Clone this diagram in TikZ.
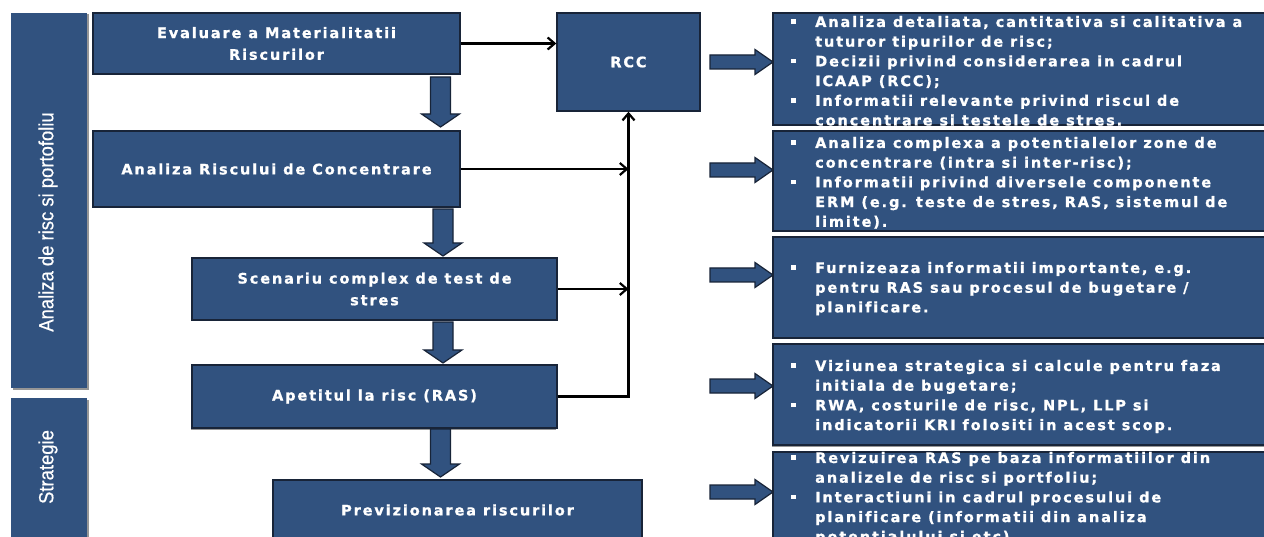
\documentclass[tikz,border=0pt]{standalone}
\usepackage{fontspec}
\setmainfont{DejaVu Sans}
\newfontfamily\boxfont{DejaVu Sans}[LetterSpace=13, FakeBold=1, Ligatures=NoCommon]
\newfontfamily\bandfont{Liberation Sans}[FakeStretch=0.9, FakeBold=0.5]
\usetikzlibrary{arrows.meta,shadows}

\definecolor{boxblue}{RGB}{49,82,127}
\definecolor{boxline}{RGB}{24,36,56}
\definecolor{shade}{RGB}{150,150,150}

\newcommand\bul{\makebox[24pt][l]{\rule[3pt]{5pt}{4.5pt}}}
\newcommand\ind{\hspace*{24pt}}

\begin{document}
\begin{tikzpicture}[
  x=1pt,
  y=-1pt,
  box/.style={draw=boxline, line width=1.4pt, fill=boxblue, text=white,
    font=\boxfont\bfseries\fontsize{14.5}{19.7}\selectfont,
    align=center, inner sep=0pt,
    drop shadow={shadow xshift=-1.5pt, shadow yshift=-1.5pt, fill=shade, opacity=1}},
  band/.style={fill=boxblue, inner sep=0pt,
    drop shadow={shadow xshift=1.5pt, shadow yshift=-1.5pt, fill=shade, opacity=1}},
  bandtext/.style={text=white, rotate=90, inner sep=0pt,
    font=\bandfont\fontsize{20.5}{22}\selectfont},
  info/.style={text=white, anchor=north west, align=left, inner sep=0pt,
    font=\boxfont\bfseries\fontsize{14.5}{19.7}\selectfont},
  blk/.style={fill=boxblue, draw=boxline, line width=1.2pt, line join=miter},
  conn/.style={draw=black, line width=2.2pt,
    -{Straight Barb[length=7pt,width=12pt]}}
]
  \useasboundingbox (0,0) rectangle (1264,537);
  \clip (0,0) rectangle (1264,537);

  % Benzi laterale
  \node[band, minimum width=76, minimum height=375] (an) at (49,200.5) {};
  \node[bandtext] (antext) at (48,222) {Analiza de risc si portofoliu};
  \node[band, minimum width=76, minimum height=150] (st) at (49,473) {};
  \node[bandtext] (sttext) at (48,467) {Strategie};

  % Blocuri proces
  \node[box, minimum width=367, minimum height=61] (eval) at (276.5,43.5)
    {Evaluare a Materialitatii\\[2pt]Riscurilor};
  \node[box, minimum width=367, minimum height=76] (conc) at (276.5,169)
    {Analiza Riscului de Concentrare};
  \node[box, minimum width=365, minimum height=62] (scen) at (374.5,289)
    {Scenariu complex de test de\\[2pt]stres};
  \node[box, minimum width=365, minimum height=63] (ras) at (374.5,396.5)
    {Apetitul la risc (RAS)};
  \node[box, minimum width=369, minimum height=60] (prev) at (457.5,510)
    {Previzionarea riscurilor};
  \node[box, minimum width=143, minimum height=98] (rcc) at (628.5,62) {RCC};

  % Sageti bloc in jos
  \foreach \x/\t/\b in {440.5/77/127, 443/209/256, 443/322/363, 440.5/429/477}
    \draw[blk] (\x-10,\t) -- (\x+10,\t) -- (\x+10,\b-13) -- (\x+19,\b-13)
      -- (\x,\b) -- (\x-19,\b-13) -- (\x-10,\b-13) -- cycle;

  % Legaturi spre RCC
  \draw[conn] (eval.east) -- (eval.east -| rcc.west);
  \draw[conn] (conc.east) -- (conc.east -| rcc.south);
  \draw[conn] (scen.east) -- (scen.east -| rcc.south);
  \draw[conn] (ras.east) -| (rcc.south);

  % Casete dreapta
  \node[box, minimum width=517, minimum height=112] (rb1) at (1031.5,69) {};
  \node[box, minimum width=517, minimum height=100] (rb2) at (1031.5,181) {};
  \node[box, minimum width=517, minimum height=101] (rb3) at (1031.5,287.5) {};
  \node[box, minimum width=517, minimum height=101] (rb4) at (1031.5,394.5) {};
  \node[box, minimum width=517, minimum height=108] (rb5) at (1031.5,506) {};

  % Sageti bloc spre dreapta
  \foreach \y in {62,170,275,386,492}
    \draw[blk] (710,\y-7) -- (755,\y-7) -- (755,\y-12.5) -- (773,\y)
      -- (755,\y+12.5) -- (755,\y+7) -- (710,\y+7) -- cycle;

  % Texte
  \node[info] (t1) at (791,13) {\strut\bul Analiza detaliata, cantitativa si calitativa a\\
    \ind tuturor tipurilor de risc;\\
    \bul Decizii privind considerarea in cadrul\\
    \ind ICAAP (RCC);\\
    \bul Informatii relevante privind riscul de\\
    \ind concentrare si testele de stres.};
  \node[info] (t2) at (791,134) {\strut\bul Analiza complexa a potentialelor zone de\\
    \ind concentrare (intra si inter-risc);\\
    \bul Informatii privind diversele componente\\
    \ind ERM (e.g. teste de stres, RAS, sistemul de\\
    \ind limite).};
  \node[info] (t3) at (791,259) {\strut\bul Furnizeaza informatii importante, e.g.\\
    \ind pentru RAS sau procesul de bugetare /\\
    \ind planificare.};
  \node[info] (t4) at (791,357) {\strut\bul Viziunea strategica si calcule pentru faza\\
    \ind initiala de bugetare;\\
    \bul RWA, costurile de risc, NPL, LLP si\\
    \ind indicatorii KRI folositi in acest scop.};
  \node[info] (t5) at (791,449) {\strut\bul Revizuirea RAS pe baza informatiilor din\\
    \ind analizele de risc si portfoliu;\\
    \bul Interactiuni in cadrul procesului de\\
    \ind planificare (informatii din analiza\\
    \ind potentialului si etc).};
\end{tikzpicture}
\end{document}
